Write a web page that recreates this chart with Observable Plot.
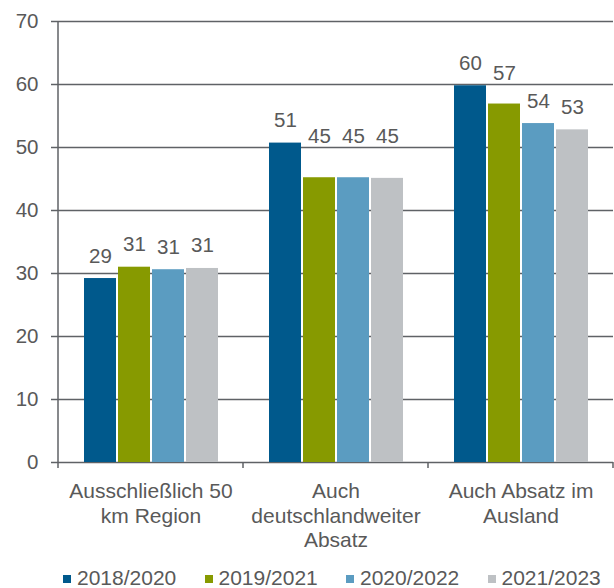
<!DOCTYPE html>
<html lang="de">
<head>
<meta charset="utf-8">
<script src="https://cdn.jsdelivr.net/npm/d3@7"></script>
<script src="https://cdn.jsdelivr.net/npm/@observablehq/plot@0.6"></script>
<style>
  html, body { margin: 0; padding: 0; background: #fff; }
  #chart { width: 614px; font-family: "Liberation Sans", Arial, sans-serif; color: #595959; }
  .legend { display: flex; padding-left: 63px; margin-top: 11px; font-size: 21px; line-height: 24px; }
  .legend .item { display: flex; align-items: center; flex: 0 0 141.5px; white-space: nowrap; }
  .legend .sw { width: 8px; height: 8px; margin-right: 6px; position: relative; top: 1px; }
</style>
</head>
<body>
<div id="chart"></div>
<script>
// Sales reach of businesses, share in percent, by survey period
const categories = ["Ausschließlich 50\nkm Region", "Auch\ndeutschlandweiter\nAbsatz", "Auch Absatz im\nAusland"];
const series = ["2018/2020", "2019/2021", "2020/2022", "2021/2023"];
const values2018 = [29.2, 50.7, 59.8];
const values2019 = [31.0, 45.2, 56.9];
const values2020 = [30.6, 45.2, 53.8];
const values2021 = [30.8, 45.1, 52.8];
const yTicks = [0, 10, 20, 30, 40, 50, 60, 70];

const colors = ["#00598c", "#879a00", "#5b9cc1", "#bec1c4"];
const gridColor = "#5f6266";
const textColor = "#595959";

const valuesBySeries = [values2018, values2019, values2020, values2021];
const rows = [];
series.forEach((s, i) => categories.forEach((c, j) => rows.push({category: c, series: s, value: valuesBySeries[i][j]})));

const W = 614, H = 555, MT = 21, MB = 93, ML = 57, MR = 1;
const yMax = yTicks[yTicks.length - 1];
const pxPerUnit = (H - MT - MB) / yMax;

// Value labels sit a little above each bar; a label that would run into a
// gridline is lifted to sit just above that line instead.
function labelY(v) {
  const lift = 16 / pxPerUnit, cap = 15 / pxPerUnit, clear = 5 / pxPerUnit;
  let base = v + lift;
  const grid = Math.ceil(base / 10) * 10;
  if (grid <= base + cap) base = grid + clear;
  return base;
}

const chart = Plot.plot({
  width: W,
  height: H,
  marginTop: MT,
  marginBottom: MB,
  marginLeft: ML,
  marginRight: MR,
  style: {fontFamily: "Liberation Sans, Arial, sans-serif", fontSize: "20px", color: textColor, background: "#fff", overflow: "visible"},
  fx: {domain: categories, padding: 0},
  x: {domain: series, paddingInner: 0.06, paddingOuter: 0.75, axis: null},
  y: {domain: [0, yMax], axis: null},
  color: {domain: series, range: colors},
  marks: [
    Plot.ruleY(yTicks, {stroke: gridColor, strokeWidth: 1.5}),
    Plot.barY(rows, {fx: "category", x: "series", y: "value", fill: "series"}),
    Plot.text(rows, {
      fx: "category", x: "series", y: d => labelY(d.value),
      text: d => String(Math.round(d.value)),
      lineAnchor: "bottom", fontSize: 20.5, fill: textColor
    }),
    Plot.axisY({ticks: yTicks, tickSize: 7, tickPadding: 13, stroke: gridColor, strokeWidth: 1.5, fill: textColor, fontSize: 20.5, label: null}),
    Plot.axisFx({anchor: "bottom", tickSize: 0, tickPadding: 18, lineHeight: 1.17, fill: textColor, fontSize: 21, label: null})
  ]
});

// Axis line on the left and the category boundary ticks below the baseline
const fxScale = chart.scale("fx");
const yScale = chart.scale("y");
const y0 = yScale.apply(0);
const yTop = yScale.apply(yMax);
const edges = categories.map(c => fxScale.apply(c)).concat([fxScale.range[1]]);
const g = d3.select(chart).append("g").attr("stroke", gridColor).attr("stroke-width", 1.5);
g.append("line").attr("x1", edges[0]).attr("x2", edges[0]).attr("y1", yTop).attr("y2", y0 + 6);
edges.slice(1).forEach(x => g.append("line").attr("x1", x).attr("x2", x).attr("y1", y0).attr("y2", y0 + 6));

const root = document.getElementById("chart");
root.appendChild(chart);

const legend = document.createElement("div");
legend.className = "legend";
series.forEach((s, i) => {
  const item = document.createElement("div");
  item.className = "item";
  const sw = document.createElement("span");
  sw.className = "sw";
  sw.style.background = colors[i];
  const label = document.createElement("span");
  label.textContent = s;
  item.append(sw, label);
  legend.appendChild(item);
});
root.appendChild(legend);
</script>
</body>
</html>
